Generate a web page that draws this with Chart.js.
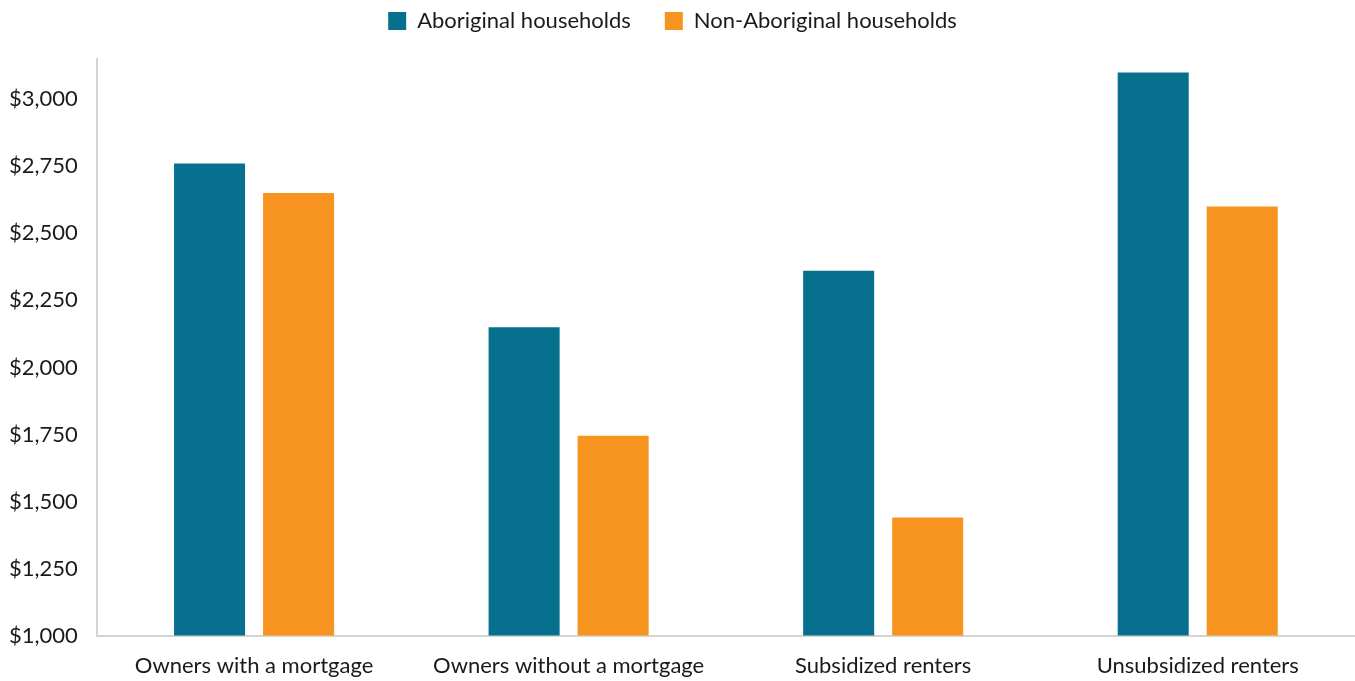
<!DOCTYPE html>
<html>
<head>
<meta charset="utf-8">
<script src="https://cdn.jsdelivr.net/npm/chart.js@4.4.1/dist/chart.umd.min.js"></script>
<style>
html,body{margin:0;padding:0;background:#fff;}
#wrap{width:1355px;height:681px;position:relative;}
</style>
</head>
<body>
<div id="wrap"><canvas id="c" width="1355" height="681"></canvas></div>
<script>
const categories = ["Owners with a mortgage", "Owners without a mortgage", "Subsidized renters", "Unsubsidized renters"];
const aboriginal = [2760, 2150, 2360, 3100];
const nonAboriginal = [2650, 1745, 1440, 2600];
const seriesNames = ["Aboriginal households", "Non-Aboriginal households"];
const yMin = 1000, yMax = 3150, yStep = 250;

const FONT = "Lato, 'Open Sans', sans-serif";

const legendGap = {
  id: 'legendGap',
  beforeInit(chart) {
    const fit = chart.legend.fit;
    chart.legend.fit = function () { fit.call(this); this.height += 17; };
  }
};

new Chart(document.getElementById('c'), {
  type: 'bar',
  data: {
    labels: categories,
    datasets: [
      { label: seriesNames[0], data: aboriginal, backgroundColor: '#07708F', borderWidth: 0,
        barPercentage: 0.798, categoryPercentage: 0.566 },
      { label: seriesNames[1], data: nonAboriginal, backgroundColor: '#F7941F', borderWidth: 0,
        barPercentage: 0.798, categoryPercentage: 0.566 }
    ]
  },
  options: {
    responsive: false,
    animation: false,
    devicePixelRatio: 1,
    layout: { padding: { left: -10, right: 0, top: -24, bottom: 0 } },
    plugins: {
      legend: {
        position: 'top',
        labels: {
          boxWidth: 18, boxHeight: 18, padding: 34,
          color: '#1a1a1a', font: { family: FONT, size: 22 }
        }
      },
      tooltip: { enabled: false }
    },
    scales: {
      x: {
        grid: { display: false, drawTicks: false },
        border: { display: true, color: '#d4d4d4', width: 2 },
        ticks: { color: '#1a1a1a', font: { family: FONT, size: 22 }, padding: 17 },
        afterFit: (s) => { s.height -= 15; }
      },
      y: {
        min: yMin, max: yMax,
        grid: { display: false, drawTicks: false },
        border: { display: true, color: '#d4d4d4', width: 2 },
        afterBuildTicks: (axis) => { axis.ticks = axis.ticks.filter(t => t.value % yStep === 0); },
        ticks: {
          stepSize: yStep, padding: 19, color: '#1a1a1a', font: { family: FONT, size: 22 },
          callback: (v) => '$' + v.toLocaleString('en-US')
        }
      }
    }
  },
  plugins: [legendGap]
});
</script>
</body>
</html>
